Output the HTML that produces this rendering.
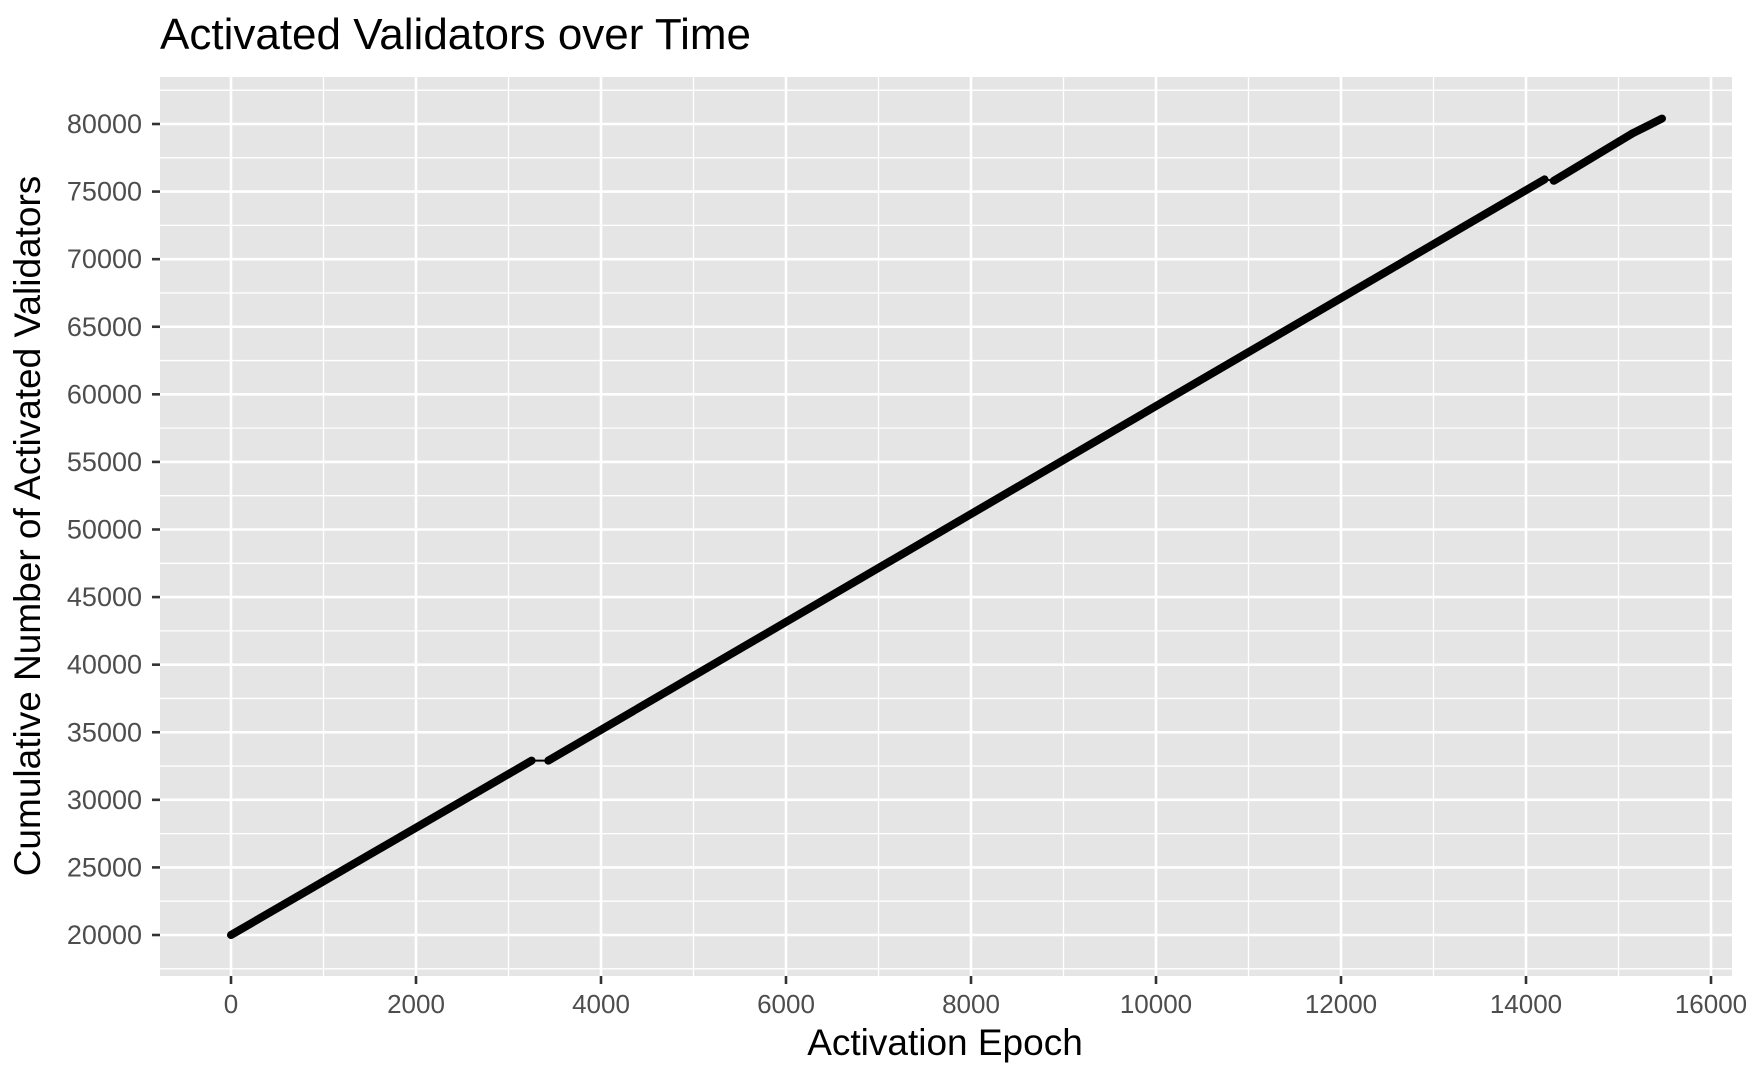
<!DOCTYPE html>
<html><head><meta charset="utf-8"><style>
body{margin:0;background:#fff;}
svg text{font-family:"Liberation Sans",sans-serif;}
</style></head><body>
<svg id="chart" width="1750" height="1081" xmlns="http://www.w3.org/2000/svg">
<text x="160" y="49" font-size="44" fill="#000">Activated Validators over Time</text>
<rect x="160" y="77" width="1572" height="899" fill="#e5e5e5"/>
<g id="grid"></g><g id="axes"></g><g id="series"></g>
<text x="945" y="1055" font-size="37" text-anchor="middle" fill="#000">Activation Epoch</text>
<text transform="translate(40,526) rotate(-90)" font-size="37" text-anchor="middle" fill="#000">Cumulative Number of Activated Validators</text>
</svg>
<script>
const xTicks=[0,2000,4000,6000,8000,10000,12000,14000,16000];
const yTicks=[20000,25000,30000,35000,40000,45000,50000,55000,60000,65000,70000,75000,80000];
const epochs=[0,3250,3430,14200,14300,15150,15470];
const validators=[20000,32900,32900,75900,75800,79300,80400];
const NS="http://www.w3.org/2000/svg";
const L=160,R=1732,T=77,B=976;
const xs=v=>231+(v-0)*(1711-231)/16000;
const ys=v=>935-(v-20000)*(935-124)/60000;
function mk(tag,attrs,parent){const e=document.createElementNS(NS,tag);for(const k in attrs)e.setAttribute(k,attrs[k]);parent.appendChild(e);return e;}
const grid=document.getElementById('grid'),axes=document.getElementById('axes'),series=document.getElementById('series');
for(let i=0;i<xTicks.length;i++){
 const x=xs(xTicks[i]);
 const g=mk('line',{x1:x,x2:x,y1:T,y2:B,stroke:'#fff','stroke-width':2.6},grid);
 
 
 if(i<xTicks.length-1){const xm=xs((xTicks[i]+xTicks[i+1])/2);
 const m=mk('line',{x1:xm,x2:xm,y1:T,y2:B,stroke:'#fff','stroke-width':1.3},grid);
 
 }
 const t=mk('line',{x1:x,x2:x,y1:B,y2:B+8,stroke:'#333','stroke-width':2.6},axes);
 
 
 const lb=mk('text',{x:x,y:B+37,'font-size':26,'text-anchor':'middle',fill:'#4d4d4d'},axes);
 lb.textContent=xTicks[i];
 
 
}
{const xm=xs(-1000);const m=mk('line',{x1:xm,x2:xm,y1:T,y2:B,stroke:'#fff','stroke-width':1.3},grid);

}
for(let i=0;i<yTicks.length;i++){
 const y=ys(yTicks[i]);
 const g=mk('line',{x1:L,x2:R,y1:y,y2:y,stroke:'#fff','stroke-width':2.6},grid);
 
 
 const ym=ys(yTicks[i]-2500);
 const m=mk('line',{x1:L,x2:R,y1:ym,y2:ym,stroke:'#fff','stroke-width':1.3},grid);
 
 
 const t=mk('line',{x1:L-8,x2:L,y1:y,y2:y,stroke:'#333','stroke-width':2.6},axes);
 
 
 const lb=mk('text',{x:L-18,y:y+9,'font-size':27,'text-anchor':'end',fill:'#4d4d4d'},axes);
 lb.textContent=yTicks[i];
 
 
}
{const ym=ys(82500);const m=mk('line',{x1:L,x2:R,y1:ym,y2:ym,stroke:'#fff','stroke-width':1.3},grid);

}
for(let i=0;i<epochs.length-1;i++){
 const flat=validators[i+1]<=validators[i];
 const s=mk('line',{x1:xs(epochs[i]),y1:ys(validators[i]),x2:xs(epochs[i+1]),y2:ys(validators[i+1]),stroke:'#000','stroke-width':flat?2:8,'stroke-linecap':'round'},series);
 
 
}
</script>
</body></html>
